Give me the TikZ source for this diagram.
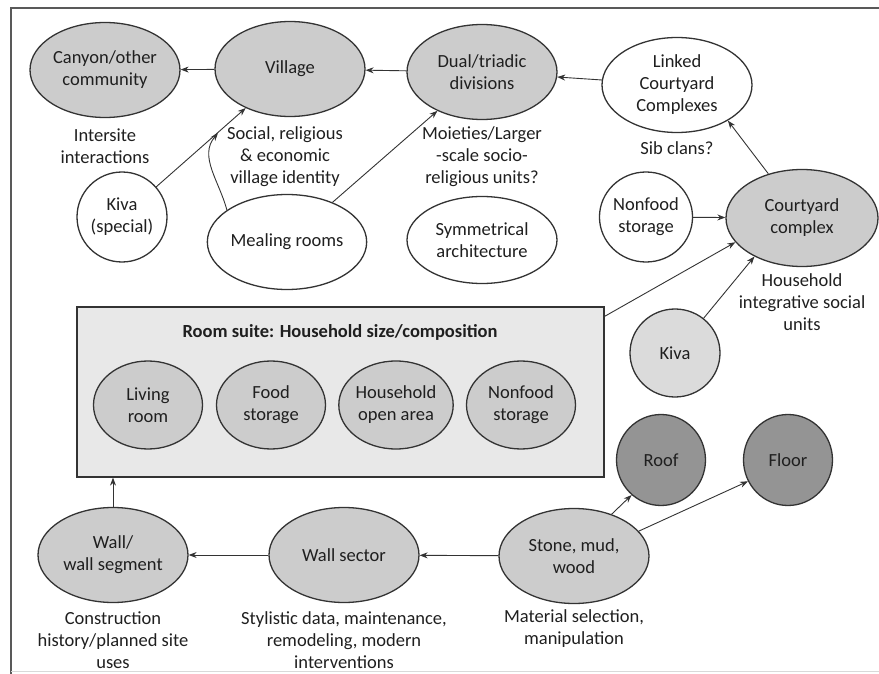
\documentclass[tikz,border=0pt]{standalone}
\usepackage{fontspec}
\setmainfont{Carlito}
\usetikzlibrary{shapes.geometric}
\usetikzlibrary{arrows.meta}
\tikzstyle{oval}=[
      ellipse,
      draw = black!80,
      line width = 1.3pt,
      inner sep = 0pt,
      minimum width = 150pt,
      minimum height = 95pt,
      align = center
      ]
\tikzstyle{greyoval}=[oval, fill = black!20]
\tikzstyle{whiteoval}=[oval, fill = white]
\tikzstyle{smallwhite}=[oval, fill = white, minimum width = 90pt, minimum height = 90pt]
\tikzstyle{roomoval}=[oval, fill = black!20, minimum width = 109pt, minimum height = 88pt]
\tikzstyle{kivaoval}=[oval, fill = black!14, minimum width = 90pt, minimum height = 88pt]
\tikzstyle{darkoval}=[oval, fill = black!42, minimum width = 89pt, minimum height = 91pt]
\tikzstyle{notetext}=[align = center]
\tikzstyle{arr}=[
      -{Stealth[length=8pt,width=6pt]},
      line width = 0.9pt,
      draw = black!80
      ]

\begin{document}
\begin{tikzpicture}[x=1pt, y=-1pt,
  every node/.style={font=\fontsize{18.5}{22}\selectfont, text=black!88}]
\useasboundingbox (0,0) rectangle (879,674);
% frame
\draw[black!65, line width=1.5pt] (11,674) -- (11,8) -- (879,8);
\draw[black!15, line width=0.6pt] (11,671) -- (879,671);

% top row
\node[greyoval] (canyon) at (105,70) {Canyon/other\\community};
\node[greyoval] (village) at (290,69) {Village};
\node[greyoval] (dual) at (482,72) {Dual/triadic\\divisions};
\node[whiteoval] (linked) at (677,85) {Linked\\Courtyard\\Complexes};
\node[notetext] (canyonlbl) at (105,146) {Intersite\\interactions};
\node[notetext] (villagelbl) at (285,157) {Social, religious\\\& economic\\village identity};
\node[notetext] (duallbl) at (482,157) {Moieties/Larger\\-scale socio-\\religious units?};
\node[notetext] (linkedlbl) at (677,148) {Sib clans?};

% second row
\node[smallwhite] (kivaspecial) at (122,217) {Kiva\\(special)};
\node[whiteoval] (mealing) at (287,242) {Mealing rooms};
\node[whiteoval, minimum height=87pt] (symm) at (482,240) {Symmetrical\\architecture};
\node[smallwhite] (nonfoodtop) at (646,217) {Nonfood\\storage};
\node[greyoval, minimum width=152pt, minimum height=97pt] (courtyard) at (802,218) {Courtyard\\complex};
\node[notetext] (courtlbl) at (802,302) {Household\\integrative social\\units};
\coordinate (villagetip) at (218,133);

% room suite
\node[rectangle, draw=black!80, line width=1.3pt, fill=black!9,
      minimum width=527pt, minimum height=170pt] (suite) at (340.5,392) {};
\node[font=\fontsize{18.5}{22}\selectfont\bfseries] (suitetitle) at (340,332)
  {Room suite: Household size/composition};
\node[roomoval] (living) at (148,405) {Living\\room};
\node[roomoval] (food) at (271,405) {Food\\storage};
\node[roomoval] (openarea) at (396,405) {Household\\open area};
\node[roomoval] (nonfood) at (521,405) {Nonfood\\storage};

% right side
\node[kivaoval] (kiva) at (675,353) {Kiva};
\node[darkoval] (roof) at (661,460) {Roof};
\node[darkoval] (floor) at (788,460) {Floor};

% bottom row
\node[greyoval] (wall) at (113,555) {Wall/\\wall segment};
\node[greyoval] (wallsector) at (344,555) {Wall sector};
\node[greyoval] (stone) at (574,556) {Stone, mud,\\wood};
\node[notetext] (walllbl) at (113,640) {Construction\\history/planned site\\uses};
\node[notetext] (sectorlbl) at (344,640) {Stylistic data, maintenance,\\remodeling, modern\\interventions};
\node[notetext] (stonelbl) at (574,629) {Material selection,\\manipulation};

% connectors
\draw[arr] (village) -- (canyon);
\draw[arr] (dual) -- (village);
\draw[arr] (linked) -- (dual);
\draw[arr] (kivaspecial) -- (village);
\draw[arr] (mealing.152) to[out=105, in=-130] (villagetip);
\draw[arr] (mealing) -- (dual);
\draw[arr] (courtyard) -- (linked.-35);
\draw[arr] (nonfoodtop) -- (courtyard);
\draw[arr] ([yshift=-10pt]suite.north east) -- (courtyard.200);
\draw[arr] (kiva) -- (courtyard.219);
\draw[arr] (stone.48) -- (roof.230);
\draw[arr] (stone.21) -- (floor.208);
\draw[arr] (stone) -- (wallsector);
\draw[arr] (wallsector) -- (wall);
\draw[arr] (wall) -- (wall |- suite.south);
\end{tikzpicture}
\end{document}
